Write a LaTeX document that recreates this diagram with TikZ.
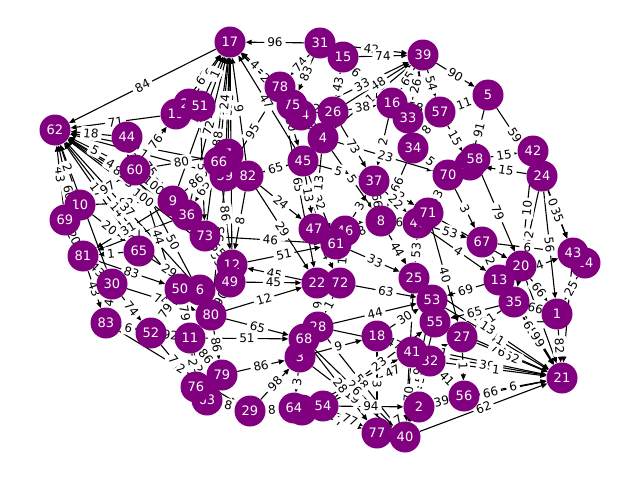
\documentclass[tikz,border=0pt]{standalone}
\usepackage{fontspec}
\setmainfont{DejaVu Sans}
\usetikzlibrary{arrows.meta}
\pgfdeclarelayer{edgelayer}
\pgfdeclarelayer{labellayer}
\pgfsetlayers{edgelayer,labellayer,main}
\definecolor{nodepurple}{HTML}{800080}
\tikzset{
  vert/.style={circle, fill=nodepurple, draw=none, minimum size=31pt, inner sep=0pt, text=white, font=\fontsize{13}{13}\selectfont},
  edgeline/.style={draw=black, line width=1.1pt, -{Triangle[length=6pt,width=5pt]}},
  elab/.style={fill=white, rounded corners=2pt, inner xsep=3pt, inner ysep=2.5pt, font=\fontsize{12}{12}\selectfont, text=black, midway, sloped},
}
\def\edgelist{17/62/84, 31/17/96, 31/39/42, 15/39/74, 39/5/90, 5/24/59, 24/43/35, 42/20/10, 24/35/52, 24/1/56, 24/38/15, 58/20/79, 5/38/91, 57/5/11, 57/38/15, 20/1/66, 14/1/25, 1/21/82, 27/21/52, 41/21/39, 2/21/66, 40/21/62, 13/21/65, 35/21/99, 20/21/7, 55/21/76, 53/21/41, 32/21/1, 43/21/8, 67/21/2,
44/62/18, 19/62/71, 69/62/43, 9/62/49, 12/62/100, 60/62/5, 10/62/2, 36/62/85, 73/62/3, 65/62/17, 81/62/60,
10/9/82, 44/9/75, 60/19/76, 60/7/80, 51/73/52, 66/36/65, 7/80/53, 73/49/55, 44/11/44, 10/65/20, 60/80/50, 65/6/29, 81/50/83, 30/80/74, 50/52/79, 83/29/92, 11/79/86, 80/68/65, 11/68/51, 81/83/43,
19/17/62, 59/17/32, 82/17/9, 78/59/95, 78/45/10, 26/37/73, 16/37/2, 4/70/23, 4/8/5, 34/8/66, 78/22/65, 4/47/13, 45/61/32, 82/47/24, 66/12/86, 82/12/8, 82/22/29, 73/61/46, 12/61/51, 22/12/45, 80/22/12, 72/53/63, 8/25/44, 61/25/33, 48/67/53, 71/27/40, 18/53/30, 28/53/44, 3/18/9, 54/55/23, 54/27/47, 0/41/98, 54/2/94, 29/3/98, 79/3/86, 31/78/74, 31/75/83, 15/26/43, 31/16/6, 39/16/65, 39/57/54, 4/39/12,
78/17/4, 74/17/2, 4/17/7, 45/17/47, 7/17/5, 23/17/6, 51/17/1, 33/39/26,
41/40/70, 32/40/12, 18/77/3, 55/40/5, 52/76/7, 11/63/2,
34/70/5, 46/72/18, 25/55/1, 13/67/2, 35/27/21, 13/53/69, 35/55/65, 45/82/65, 70/67/3, 71/20/9, 48/13/4, 37/71/2, 8/48/6, 47/72/4, 64/54/1, 77/2/7, 63/29/8, 76/79/2, 9/36/1, 30/83/4,
56/21/6, 25/21/13, 28/21/11, 66/17/24, 9/17/3, 36/17/72, 73/17/88, 12/17/20, 30/62/5, 50/62/14, 6/62/37, 59/62/27, 66/62/9,
65/81/1, 36/81/57, 9/81/31, 52/83/6, 11/83/70, 3/40/19, 28/40/58, 68/40/26, 53/40/91, 25/40/36, 0/77/7, 54/77/77, 68/77/28,
26/39/48, 74/39/33, 42/43/0, 67/43/6, 13/43/64, 47/8/39, 46/37/3, 61/8/48, 37/48/22, 45/37/5, 74/4/9, 75/26/12, 26/16/38,
33/34/58, 34/57/8, 70/71/3, 48/25/53, 25/53/34, 22/28/6, 72/28/1, 28/68/16, 68/3/68, 3/64/3, 64/29/8, 0/54/38, 18/41/47,
41/32/27, 32/56/41, 56/2/39, 27/56/1, 55/27/21, 53/55/7, 49/80/90, 6/80/36, 50/6/94, 12/49/4, 49/22/45, 9/66/86, 36/73/53,
60/9/100, 10/69/2, 69/81/20, 81/30/43, 30/52/74, 52/11/92, 11/76/2, 76/63/8, 79/63/28, 80/79/86, 50/11/79, 73/12/55,
7/59/65, 59/82/24, 82/45/65, 45/47/13, 47/61/1, 46/61/8, 8/37/66, 71/48/33, 70/58/15, 58/42/15, 42/24/2, 20/13/69,
13/35/65, 35/1/66, 43/14/6, 57/16/58, 33/16/2, 15/31/46, 75/74/7, 78/75/75, 23/51/3, 19/23/5, 44/60/92, 60/10/97}
\begin{document}
\begin{tikzpicture}[x=1pt,y=-1pt]
\useasboundingbox (0,0) rectangle (640,480);
\foreach \n/\x/\y in {0/302/410, 1/557/314, 2/419/407, 3/300/357, 4/323/138, 5/488/95, 6/200/290, 7/228/154, 8/381/221, 9/173/201, 10/80/205, 11/190/338, 12/232/265, 13/499/280, 14/585/263, 15/343/57, 16/392/103, 17/230/42, 18/377/336, 19/176/114, 20/521/266, 21/562/378, 22/317/283, 23/189/104, 24/542/176, 25/414/278, 26/333/112, 27/462/337, 28/318/327, 29/250/411, 30/112/284, 31/320/43, 32/430/361, 33/408/118, 34/413/148, 35/514/302, 36/187/215, 37/374/181, 38/470/165, 39/423/55, 40/405/437, 41/412/352, 42/533/151, 43/573/253, 44/127/137, 45/303/161, 46/345/231, 47/314/229, 48/418/223, 49/230/282, 50/180/289, 51/200/106, 52/151/333, 53/432/300, 54/323/406, 55/435/322, 56/464/396, 57/440/112, 58/475/159, 59/225/176, 60/135/170, 61/336/244, 62/55/130, 63/207/400, 64/294/408, 65/139/251, 66/219/162, 67/482/242, 68/304/339, 69/65/220, 70/448/175, 71/428/213, 72/340/283, 73/205/236, 74/301/115, 75/292/105, 76/196/387, 77/377/433, 78/280/87, 79/222/375, 80/211/315, 81/83/256, 82/248/176, 83/106/323}
  \node[vert] (v\n) at (\x,\y) {\n};
\begin{pgfonlayer}{edgelayer}
\foreach \s/\t/\l in \edgelist
  \draw[edgeline] (v\s) -- (v\t);
\end{pgfonlayer}
\begin{pgfonlayer}{labellayer}
\foreach \s/\t/\l in \edgelist
  \path (v\s) -- (v\t) node[elab] {\l};
\end{pgfonlayer}
\end{tikzpicture}
\end{document}
